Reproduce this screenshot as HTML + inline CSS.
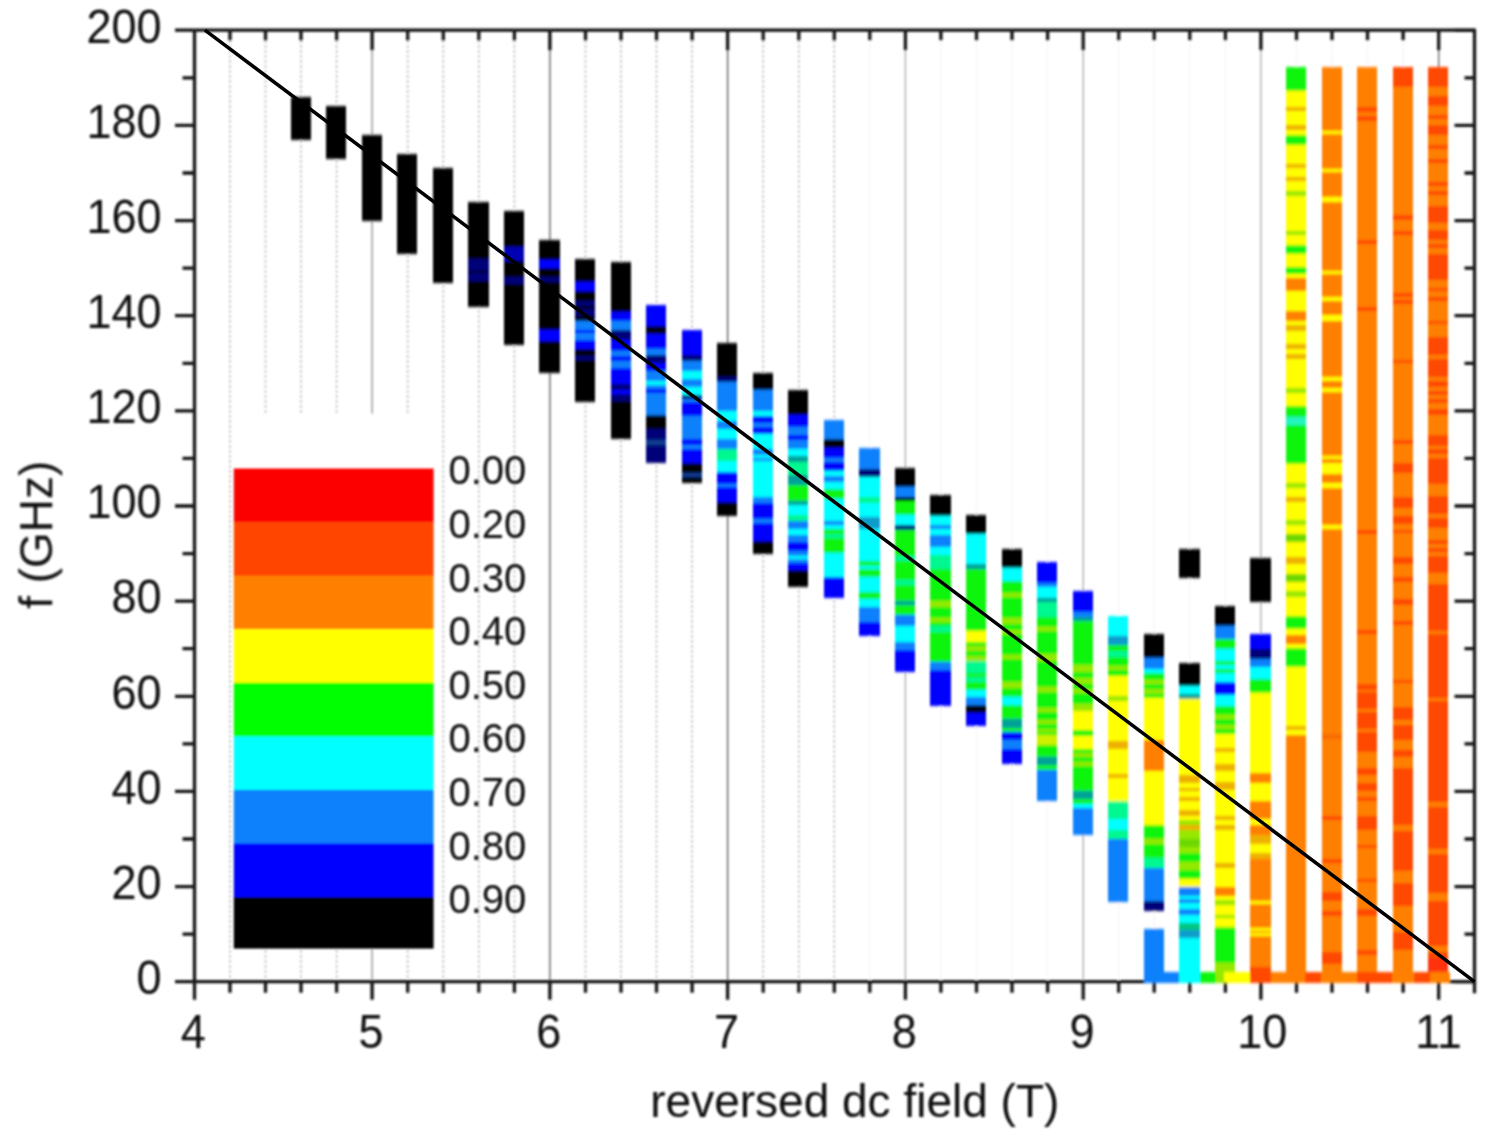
<!DOCTYPE html>
<html lang="en"><head><meta charset="utf-8"><title>f (GHz) vs reversed dc field (T)</title>
<style>html,body{margin:0;padding:0;background:#fff}body{width:1492px;height:1140px;overflow:hidden}svg{display:block}text{font-family:"Liberation Sans",Arial,sans-serif;fill:#0a0a0a}</style></head><body>
<svg width="1492" height="1140" viewBox="0 0 1492 1140">
<defs><filter id="bl" x="-5%" y="-5%" width="110%" height="110%"><feGaussianBlur stdDeviation="0.85"/></filter><filter id="bs" x="-2%" y="-2%" width="104%" height="104%"><feGaussianBlur stdDeviation="0.55"/></filter><filter id="bb" x="-20%" y="-2%" width="140%" height="104%"><feGaussianBlur stdDeviation="0.7 1.3"/></filter></defs>
<rect width="1492" height="1140" fill="#fff"/>
<g filter="url(#bl)">
<g fill="none">
<line x1="230.0" y1="30.2" x2="230.0" y2="981.7" stroke="#b8b8b8" stroke-width="1.6" stroke-dasharray="2.5 2.5"/>
<line x1="265.5" y1="30.2" x2="265.5" y2="981.7" stroke="#b8b8b8" stroke-width="1.6" stroke-dasharray="2.5 2.5"/>
<line x1="301.0" y1="30.2" x2="301.0" y2="981.7" stroke="#b8b8b8" stroke-width="1.6" stroke-dasharray="2.5 2.5"/>
<line x1="336.6" y1="30.2" x2="336.6" y2="981.7" stroke="#b8b8b8" stroke-width="1.6" stroke-dasharray="2.5 2.5"/>
<line x1="372.1" y1="30.2" x2="372.1" y2="981.7" stroke="#8a8a8a" stroke-width="1.3"/>
<line x1="407.7" y1="30.2" x2="407.7" y2="981.7" stroke="#b8b8b8" stroke-width="1.6" stroke-dasharray="2.5 2.5"/>
<line x1="443.3" y1="30.2" x2="443.3" y2="981.7" stroke="#b8b8b8" stroke-width="1.6" stroke-dasharray="2.5 2.5"/>
<line x1="478.8" y1="30.2" x2="478.8" y2="981.7" stroke="#b8b8b8" stroke-width="1.6" stroke-dasharray="2.5 2.5"/>
<line x1="514.4" y1="30.2" x2="514.4" y2="981.7" stroke="#b8b8b8" stroke-width="1.6" stroke-dasharray="2.5 2.5"/>
<line x1="549.9" y1="30.2" x2="549.9" y2="981.7" stroke="#555555" stroke-width="1.3"/>
<line x1="585.5" y1="30.2" x2="585.5" y2="981.7" stroke="#b8b8b8" stroke-width="1.6" stroke-dasharray="2.5 2.5"/>
<line x1="621.0" y1="30.2" x2="621.0" y2="981.7" stroke="#b8b8b8" stroke-width="1.6" stroke-dasharray="2.5 2.5"/>
<line x1="656.5" y1="30.2" x2="656.5" y2="981.7" stroke="#b8b8b8" stroke-width="1.6" stroke-dasharray="2.5 2.5"/>
<line x1="692.1" y1="30.2" x2="692.1" y2="981.7" stroke="#b8b8b8" stroke-width="1.6" stroke-dasharray="2.5 2.5"/>
<line x1="727.6" y1="30.2" x2="727.6" y2="981.7" stroke="#555555" stroke-width="1.3"/>
<line x1="763.2" y1="30.2" x2="763.2" y2="981.7" stroke="#b8b8b8" stroke-width="1.6" stroke-dasharray="2.5 2.5"/>
<line x1="798.8" y1="30.2" x2="798.8" y2="981.7" stroke="#b8b8b8" stroke-width="1.6" stroke-dasharray="2.5 2.5"/>
<line x1="834.3" y1="30.2" x2="834.3" y2="981.7" stroke="#b8b8b8" stroke-width="1.6" stroke-dasharray="2.5 2.5"/>
<line x1="869.8" y1="30.2" x2="869.8" y2="981.7" stroke="#f5f5f5" stroke-width="1.2"/>
<line x1="905.4" y1="30.2" x2="905.4" y2="981.7" stroke="#a8a8a8" stroke-width="1.3"/>
<line x1="940.9" y1="30.2" x2="940.9" y2="981.7" stroke="#f5f5f5" stroke-width="1.2"/>
<line x1="976.5" y1="30.2" x2="976.5" y2="981.7" stroke="#f5f5f5" stroke-width="1.2"/>
<line x1="1012.0" y1="30.2" x2="1012.0" y2="981.7" stroke="#f5f5f5" stroke-width="1.2"/>
<line x1="1047.6" y1="30.2" x2="1047.6" y2="981.7" stroke="#f5f5f5" stroke-width="1.2"/>
<line x1="1083.2" y1="30.2" x2="1083.2" y2="981.7" stroke="#a8a8a8" stroke-width="1.3"/>
<line x1="1118.7" y1="30.2" x2="1118.7" y2="981.7" stroke="#f5f5f5" stroke-width="1.2"/>
<line x1="1154.2" y1="30.2" x2="1154.2" y2="981.7" stroke="#f5f5f5" stroke-width="1.2"/>
<line x1="1189.8" y1="30.2" x2="1189.8" y2="981.7" stroke="#f5f5f5" stroke-width="1.2"/>
<line x1="1225.4" y1="30.2" x2="1225.4" y2="981.7" stroke="#f5f5f5" stroke-width="1.2"/>
<line x1="1260.9" y1="30.2" x2="1260.9" y2="981.7" stroke="#a8a8a8" stroke-width="1.3"/>
<line x1="1296.5" y1="30.2" x2="1296.5" y2="981.7" stroke="#f5f5f5" stroke-width="1.2"/>
<line x1="1332.0" y1="30.2" x2="1332.0" y2="981.7" stroke="#f5f5f5" stroke-width="1.2"/>
<line x1="1367.5" y1="30.2" x2="1367.5" y2="981.7" stroke="#f5f5f5" stroke-width="1.2"/>
<line x1="1403.1" y1="30.2" x2="1403.1" y2="981.7" stroke="#f5f5f5" stroke-width="1.2"/>
<line x1="1438.7" y1="30.2" x2="1438.7" y2="981.7" stroke="#606060" stroke-width="1.3"/>
</g>
<rect x="234" y="414" width="202" height="535" fill="#fff"/>
<g stroke="#161616" stroke-width="3.3" fill="none" stroke-linecap="butt">
<path d="M175.0 30.2H1476.0M175.0 981.7H1144.5M1449 981.7H1476.0M194.5 30.2V999.7M1474.5 30.2V993.2"/>
<path d="M1454.5 981.7H1474.5M182.5 934.1H194.5M1464.5 934.1H1474.5M175.0 886.6H194.5M1454.5 886.6H1474.5M182.5 839.0H194.5M1464.5 839.0H1474.5M175.0 791.4H194.5M1454.5 791.4H1474.5M182.5 743.9H194.5M1464.5 743.9H1474.5M175.0 696.3H194.5M1454.5 696.3H1474.5M182.5 648.7H194.5M1464.5 648.7H1474.5M175.0 601.1H194.5M1454.5 601.1H1474.5M182.5 553.6H194.5M1464.5 553.6H1474.5M175.0 506.0H194.5M1454.5 506.0H1474.5M182.5 458.4H194.5M1464.5 458.4H1474.5M175.0 410.9H194.5M1454.5 410.9H1474.5M182.5 363.3H194.5M1464.5 363.3H1474.5M175.0 315.7H194.5M1454.5 315.7H1474.5M182.5 268.2H194.5M1464.5 268.2H1474.5M175.0 220.6H194.5M1454.5 220.6H1474.5M182.5 173.0H194.5M1464.5 173.0H1474.5M175.0 125.4H194.5M1454.5 125.4H1474.5M182.5 77.9H194.5M1464.5 77.9H1474.5M1454.5 30.3H1474.5M230.0 981.7V992.7M230.0 30.2V40.5M265.5 981.7V992.7M265.5 30.2V40.5M301.0 981.7V992.7M301.0 30.2V40.5M336.6 981.7V992.7M336.6 30.2V40.5M372.1 981.7V999.7M372.1 30.2V50.2M407.7 981.7V992.7M407.7 30.2V40.5M443.3 981.7V992.7M443.3 30.2V40.5M478.8 981.7V992.7M478.8 30.2V40.5M514.4 981.7V992.7M514.4 30.2V40.5M549.9 981.7V999.7M549.9 30.2V50.2M585.5 981.7V992.7M585.5 30.2V40.5M621.0 981.7V992.7M621.0 30.2V40.5M656.5 981.7V992.7M656.5 30.2V40.5M692.1 981.7V992.7M692.1 30.2V40.5M727.6 981.7V999.7M727.6 30.2V50.2M763.2 981.7V992.7M763.2 30.2V40.5M798.8 981.7V992.7M798.8 30.2V40.5M834.3 981.7V992.7M834.3 30.2V40.5M869.8 981.7V992.7M869.8 30.2V40.5M905.4 981.7V999.7M905.4 30.2V50.2M940.9 981.7V992.7M940.9 30.2V40.5M976.5 981.7V992.7M976.5 30.2V40.5M1012.0 981.7V992.7M1012.0 30.2V40.5M1047.6 981.7V992.7M1047.6 30.2V40.5M1083.2 981.7V999.7M1083.2 30.2V50.2M1118.7 981.7V992.7M1118.7 30.2V40.5M1154.2 981.7V992.7M1154.2 30.2V40.5M1189.8 981.7V992.7M1189.8 30.2V40.5M1225.4 981.7V992.7M1225.4 30.2V40.5M1260.9 981.7V999.7M1260.9 30.2V50.2M1296.5 981.7V992.7M1296.5 30.2V40.5M1332.0 981.7V992.7M1332.0 30.2V40.5M1367.5 981.7V992.7M1367.5 30.2V40.5M1403.1 981.7V992.7M1403.1 30.2V40.5M1438.7 981.7V999.7M1438.7 30.2V50.2"/>
</g>
<g filter="url(#bb)" shape-rendering="crispEdges">
<rect x="290.5" y="96.9" width="20.2" height="43.1" fill="#000000"/>
<rect x="326.1" y="106.4" width="20.2" height="52.6" fill="#000000"/>
<rect x="361.6" y="135.0" width="20.2" height="85.9" fill="#000000"/>
<rect x="397.2" y="154.0" width="20.2" height="100.2" fill="#000000"/>
<rect x="432.8" y="168.3" width="20.2" height="114.5" fill="#000000"/>
<rect x="468.3" y="201.6" width="20.2" height="57.4" fill="#000000"/>
<rect x="468.3" y="258.6" width="20.2" height="12.2" fill="#000078"/>
<rect x="468.3" y="270.5" width="20.2" height="2.7" fill="#000000"/>
<rect x="468.3" y="272.9" width="20.2" height="8.4" fill="#000078"/>
<rect x="468.3" y="281.0" width="20.2" height="25.5" fill="#000000"/>
<rect x="503.9" y="211.1" width="20.2" height="36.0" fill="#000000"/>
<rect x="503.9" y="246.7" width="20.2" height="14.1" fill="#0000b4"/>
<rect x="503.9" y="260.5" width="20.2" height="16.5" fill="#000000"/>
<rect x="503.9" y="276.7" width="20.2" height="7.4" fill="#000078"/>
<rect x="503.9" y="283.8" width="20.2" height="60.7" fill="#000000"/>
<rect x="539.4" y="239.6" width="20.2" height="20.3" fill="#000000"/>
<rect x="539.4" y="259.6" width="20.2" height="8.9" fill="#0000ff"/>
<rect x="539.4" y="268.2" width="20.2" height="8.9" fill="#000000"/>
<rect x="539.4" y="276.7" width="20.2" height="6.0" fill="#000078"/>
<rect x="539.4" y="282.4" width="20.2" height="47.9" fill="#000000"/>
<rect x="539.4" y="330.0" width="20.2" height="10.8" fill="#0000ff"/>
<rect x="539.4" y="340.5" width="20.2" height="32.6" fill="#000000"/>
<rect x="575.0" y="258.6" width="20.2" height="24.1" fill="#000000"/>
<rect x="575.0" y="282.4" width="20.2" height="8.9" fill="#0000ff"/>
<rect x="575.0" y="291.0" width="20.2" height="10.8" fill="#000000"/>
<rect x="575.0" y="301.4" width="20.2" height="5.1" fill="#000078"/>
<rect x="575.0" y="306.2" width="20.2" height="3.2" fill="#000000"/>
<rect x="575.0" y="309.1" width="20.2" height="7.0" fill="#000078"/>
<rect x="575.0" y="315.7" width="20.2" height="6.0" fill="#000000"/>
<rect x="575.0" y="321.4" width="20.2" height="8.9" fill="#0c80fc"/>
<rect x="575.0" y="330.0" width="20.2" height="3.6" fill="#0000ff"/>
<rect x="575.0" y="333.3" width="20.2" height="6.5" fill="#0c80fc"/>
<rect x="575.0" y="339.5" width="20.2" height="9.8" fill="#0000ff"/>
<rect x="575.0" y="349.0" width="20.2" height="7.0" fill="#000000"/>
<rect x="575.0" y="355.7" width="20.2" height="4.1" fill="#000078"/>
<rect x="575.0" y="359.5" width="20.2" height="42.2" fill="#000000"/>
<rect x="610.5" y="261.5" width="20.2" height="50.7" fill="#000000"/>
<rect x="610.5" y="311.9" width="20.2" height="9.8" fill="#0000ff"/>
<rect x="610.5" y="321.4" width="20.2" height="8.9" fill="#0c80fc"/>
<rect x="610.5" y="330.0" width="20.2" height="9.8" fill="#000078"/>
<rect x="610.5" y="339.5" width="20.2" height="12.2" fill="#0000ff"/>
<rect x="610.5" y="351.4" width="20.2" height="5.1" fill="#0c80fc"/>
<rect x="610.5" y="356.2" width="20.2" height="5.1" fill="#0000ff"/>
<rect x="610.5" y="360.9" width="20.2" height="7.0" fill="#0c80fc"/>
<rect x="610.5" y="367.6" width="20.2" height="16.5" fill="#0000ff"/>
<rect x="610.5" y="383.7" width="20.2" height="6.5" fill="#000078"/>
<rect x="610.5" y="389.9" width="20.2" height="4.6" fill="#0000ff"/>
<rect x="610.5" y="394.2" width="20.2" height="7.4" fill="#000078"/>
<rect x="610.5" y="401.3" width="20.2" height="37.4" fill="#000000"/>
<rect x="646.0" y="305.3" width="20.2" height="21.2" fill="#0000ff"/>
<rect x="646.0" y="326.2" width="20.2" height="8.4" fill="#000000"/>
<rect x="646.0" y="334.3" width="20.2" height="14.6" fill="#0000ff"/>
<rect x="646.0" y="348.5" width="20.2" height="6.5" fill="#0c80fc"/>
<rect x="646.0" y="354.7" width="20.2" height="8.9" fill="#000078"/>
<rect x="646.0" y="363.3" width="20.2" height="7.9" fill="#0000ff"/>
<rect x="646.0" y="370.9" width="20.2" height="10.3" fill="#0c80fc"/>
<rect x="646.0" y="380.9" width="20.2" height="4.1" fill="#00ffff"/>
<rect x="646.0" y="384.7" width="20.2" height="4.6" fill="#0c80fc"/>
<rect x="646.0" y="389.0" width="20.2" height="4.1" fill="#0000ff"/>
<rect x="646.0" y="392.8" width="20.2" height="22.7" fill="#0c80fc"/>
<rect x="646.0" y="415.1" width="20.2" height="14.6" fill="#000000"/>
<rect x="646.0" y="429.4" width="20.2" height="11.2" fill="#000078"/>
<rect x="646.0" y="440.4" width="20.2" height="5.1" fill="#083c90"/>
<rect x="646.0" y="445.1" width="20.2" height="17.9" fill="#000078"/>
<rect x="681.6" y="329.5" width="20.2" height="25.5" fill="#0000ff"/>
<rect x="681.6" y="354.7" width="20.2" height="7.0" fill="#000078"/>
<rect x="681.6" y="361.4" width="20.2" height="9.8" fill="#0c80fc"/>
<rect x="681.6" y="370.9" width="20.2" height="7.9" fill="#00ffff"/>
<rect x="681.6" y="378.5" width="20.2" height="8.9" fill="#0c80fc"/>
<rect x="681.6" y="387.1" width="20.2" height="7.9" fill="#00ffff"/>
<rect x="681.6" y="394.7" width="20.2" height="4.1" fill="#000078"/>
<rect x="681.6" y="398.5" width="20.2" height="4.1" fill="#0c80fc"/>
<rect x="681.6" y="402.3" width="20.2" height="14.1" fill="#0000ff"/>
<rect x="681.6" y="416.1" width="20.2" height="22.7" fill="#0c80fc"/>
<rect x="681.6" y="438.5" width="20.2" height="6.5" fill="#0000ff"/>
<rect x="681.6" y="444.6" width="20.2" height="5.1" fill="#0c80fc"/>
<rect x="681.6" y="449.4" width="20.2" height="13.6" fill="#0000ff"/>
<rect x="681.6" y="462.7" width="20.2" height="10.3" fill="#000000"/>
<rect x="681.6" y="472.7" width="20.2" height="4.1" fill="#083c90"/>
<rect x="681.6" y="476.5" width="20.2" height="6.5" fill="#000000"/>
<rect x="717.1" y="342.8" width="20.2" height="34.1" fill="#000000"/>
<rect x="717.1" y="376.6" width="20.2" height="5.5" fill="#000078"/>
<rect x="717.1" y="381.8" width="20.2" height="29.3" fill="#0c80fc"/>
<rect x="717.1" y="410.9" width="20.2" height="10.8" fill="#00ffff"/>
<rect x="717.1" y="421.3" width="20.2" height="8.4" fill="#0c80fc"/>
<rect x="717.1" y="429.4" width="20.2" height="10.3" fill="#00ffff"/>
<rect x="717.1" y="439.4" width="20.2" height="10.3" fill="#0c80fc"/>
<rect x="717.1" y="449.4" width="20.2" height="12.2" fill="#00f890"/>
<rect x="717.1" y="461.3" width="20.2" height="10.8" fill="#00ffff"/>
<rect x="717.1" y="471.7" width="20.2" height="12.2" fill="#0000ff"/>
<rect x="717.1" y="483.6" width="20.2" height="3.2" fill="#0c80fc"/>
<rect x="717.1" y="486.5" width="20.2" height="15.5" fill="#0000ff"/>
<rect x="717.1" y="501.7" width="20.2" height="14.6" fill="#000000"/>
<rect x="752.7" y="372.8" width="20.2" height="17.4" fill="#000000"/>
<rect x="752.7" y="389.9" width="20.2" height="21.2" fill="#0c80fc"/>
<rect x="752.7" y="410.9" width="20.2" height="5.5" fill="#00ffff"/>
<rect x="752.7" y="416.1" width="20.2" height="7.4" fill="#0000ff"/>
<rect x="752.7" y="423.2" width="20.2" height="4.1" fill="#0c80fc"/>
<rect x="752.7" y="427.0" width="20.2" height="7.4" fill="#0000ff"/>
<rect x="752.7" y="434.2" width="20.2" height="15.5" fill="#00ffff"/>
<rect x="752.7" y="449.4" width="20.2" height="5.5" fill="#0c80fc"/>
<rect x="752.7" y="454.6" width="20.2" height="3.2" fill="#00ffff"/>
<rect x="752.7" y="457.5" width="20.2" height="4.1" fill="#0c80fc"/>
<rect x="752.7" y="461.3" width="20.2" height="35.5" fill="#00ffff"/>
<rect x="752.7" y="496.5" width="20.2" height="6.5" fill="#0c80fc"/>
<rect x="752.7" y="502.7" width="20.2" height="16.9" fill="#0000ff"/>
<rect x="752.7" y="519.3" width="20.2" height="4.1" fill="#0c80fc"/>
<rect x="752.7" y="523.1" width="20.2" height="18.4" fill="#0000ff"/>
<rect x="752.7" y="541.2" width="20.2" height="12.7" fill="#000000"/>
<rect x="788.2" y="390.4" width="20.2" height="24.6" fill="#000000"/>
<rect x="788.2" y="414.7" width="20.2" height="12.2" fill="#0000ff"/>
<rect x="788.2" y="426.6" width="20.2" height="8.9" fill="#0c80fc"/>
<rect x="788.2" y="435.1" width="20.2" height="5.1" fill="#0000ff"/>
<rect x="788.2" y="439.9" width="20.2" height="9.3" fill="#0c80fc"/>
<rect x="788.2" y="448.9" width="20.2" height="7.4" fill="#00ffff"/>
<rect x="788.2" y="456.1" width="20.2" height="6.5" fill="#00a098"/>
<rect x="788.2" y="462.2" width="20.2" height="13.1" fill="#00f890"/>
<rect x="788.2" y="475.1" width="20.2" height="9.8" fill="#00a098"/>
<rect x="788.2" y="484.6" width="20.2" height="16.5" fill="#08f408"/>
<rect x="788.2" y="500.8" width="20.2" height="4.1" fill="#00a098"/>
<rect x="788.2" y="504.6" width="20.2" height="10.8" fill="#00ffff"/>
<rect x="788.2" y="515.0" width="20.2" height="6.0" fill="#00f890"/>
<rect x="788.2" y="520.7" width="20.2" height="8.4" fill="#0c80fc"/>
<rect x="788.2" y="528.8" width="20.2" height="6.0" fill="#00ffff"/>
<rect x="788.2" y="534.5" width="20.2" height="7.4" fill="#0c80fc"/>
<rect x="788.2" y="541.7" width="20.2" height="9.3" fill="#0000ff"/>
<rect x="788.2" y="550.7" width="20.2" height="5.5" fill="#0c80fc"/>
<rect x="788.2" y="555.9" width="20.2" height="3.2" fill="#00ffff"/>
<rect x="788.2" y="558.8" width="20.2" height="4.6" fill="#0c80fc"/>
<rect x="788.2" y="563.1" width="20.2" height="7.0" fill="#0000ff"/>
<rect x="788.2" y="569.7" width="20.2" height="17.4" fill="#000000"/>
<rect x="823.8" y="419.9" width="20.2" height="19.8" fill="#0c80fc"/>
<rect x="823.8" y="439.4" width="20.2" height="9.3" fill="#000000"/>
<rect x="823.8" y="448.4" width="20.2" height="10.3" fill="#0000ff"/>
<rect x="823.8" y="458.4" width="20.2" height="4.1" fill="#0c80fc"/>
<rect x="823.8" y="462.2" width="20.2" height="9.3" fill="#0000ff"/>
<rect x="823.8" y="471.3" width="20.2" height="4.6" fill="#00ffff"/>
<rect x="823.8" y="475.6" width="20.2" height="6.5" fill="#0c80fc"/>
<rect x="823.8" y="481.7" width="20.2" height="7.9" fill="#00ffff"/>
<rect x="823.8" y="489.4" width="20.2" height="9.8" fill="#08f408"/>
<rect x="823.8" y="498.9" width="20.2" height="22.2" fill="#00ffff"/>
<rect x="823.8" y="520.7" width="20.2" height="4.6" fill="#0c80fc"/>
<rect x="823.8" y="525.0" width="20.2" height="4.1" fill="#00ffff"/>
<rect x="823.8" y="528.8" width="20.2" height="5.1" fill="#08f408"/>
<rect x="823.8" y="533.6" width="20.2" height="5.1" fill="#00f890"/>
<rect x="823.8" y="538.3" width="20.2" height="14.6" fill="#08f408"/>
<rect x="823.8" y="552.6" width="20.2" height="24.6" fill="#00ffff"/>
<rect x="823.8" y="576.9" width="20.2" height="20.8" fill="#0000ff"/>
<rect x="859.3" y="447.5" width="20.2" height="22.2" fill="#0c80fc"/>
<rect x="859.3" y="469.4" width="20.2" height="7.4" fill="#000078"/>
<rect x="859.3" y="476.5" width="20.2" height="20.3" fill="#00ffff"/>
<rect x="859.3" y="496.5" width="20.2" height="6.5" fill="#00f890"/>
<rect x="859.3" y="502.7" width="20.2" height="14.1" fill="#00ffff"/>
<rect x="859.3" y="516.5" width="20.2" height="12.7" fill="#0a9ccc"/>
<rect x="859.3" y="528.8" width="20.2" height="32.6" fill="#00ffff"/>
<rect x="859.3" y="561.2" width="20.2" height="4.6" fill="#08f408"/>
<rect x="859.3" y="565.5" width="20.2" height="3.6" fill="#00ffff"/>
<rect x="859.3" y="568.8" width="20.2" height="8.9" fill="#08f408"/>
<rect x="859.3" y="577.4" width="20.2" height="14.6" fill="#00ffff"/>
<rect x="859.3" y="591.6" width="20.2" height="7.9" fill="#08f408"/>
<rect x="859.3" y="599.2" width="20.2" height="8.4" fill="#00ffff"/>
<rect x="859.3" y="607.3" width="20.2" height="14.6" fill="#0c80fc"/>
<rect x="859.3" y="621.6" width="20.2" height="14.6" fill="#0000ff"/>
<rect x="894.9" y="467.5" width="20.2" height="20.3" fill="#000000"/>
<rect x="894.9" y="487.4" width="20.2" height="9.3" fill="#0c80fc"/>
<rect x="894.9" y="496.5" width="20.2" height="5.1" fill="#000000"/>
<rect x="894.9" y="501.2" width="20.2" height="13.6" fill="#08f408"/>
<rect x="894.9" y="514.6" width="20.2" height="10.8" fill="#00ffff"/>
<rect x="894.9" y="525.0" width="20.2" height="5.1" fill="#000078"/>
<rect x="894.9" y="529.8" width="20.2" height="26.5" fill="#08f408"/>
<rect x="894.9" y="555.9" width="20.2" height="5.1" fill="#00f890"/>
<rect x="894.9" y="560.7" width="20.2" height="19.3" fill="#08f408"/>
<rect x="894.9" y="579.7" width="20.2" height="5.1" fill="#00f890"/>
<rect x="894.9" y="584.5" width="20.2" height="16.9" fill="#08f408"/>
<rect x="894.9" y="601.1" width="20.2" height="4.6" fill="#00a098"/>
<rect x="894.9" y="605.4" width="20.2" height="10.3" fill="#08f408"/>
<rect x="894.9" y="615.4" width="20.2" height="10.8" fill="#0c80fc"/>
<rect x="894.9" y="625.9" width="20.2" height="16.0" fill="#00ffff"/>
<rect x="894.9" y="641.6" width="20.2" height="8.4" fill="#0c80fc"/>
<rect x="894.9" y="649.7" width="20.2" height="22.2" fill="#0000ff"/>
<rect x="930.4" y="494.6" width="20.2" height="21.2" fill="#000000"/>
<rect x="930.4" y="515.5" width="20.2" height="9.8" fill="#00ffff"/>
<rect x="930.4" y="525.0" width="20.2" height="4.1" fill="#0c80fc"/>
<rect x="930.4" y="528.8" width="20.2" height="6.5" fill="#00ffff"/>
<rect x="930.4" y="535.0" width="20.2" height="12.2" fill="#0c80fc"/>
<rect x="930.4" y="546.9" width="20.2" height="8.4" fill="#00ffff"/>
<rect x="930.4" y="555.0" width="20.2" height="14.6" fill="#00f890"/>
<rect x="930.4" y="569.3" width="20.2" height="32.2" fill="#08f408"/>
<rect x="930.4" y="601.1" width="20.2" height="6.5" fill="#96e800"/>
<rect x="930.4" y="607.3" width="20.2" height="10.8" fill="#08f408"/>
<rect x="930.4" y="617.8" width="20.2" height="4.1" fill="#96e800"/>
<rect x="930.4" y="621.6" width="20.2" height="4.6" fill="#08f408"/>
<rect x="930.4" y="625.9" width="20.2" height="6.0" fill="#00f890"/>
<rect x="930.4" y="631.6" width="20.2" height="30.7" fill="#08f408"/>
<rect x="930.4" y="662.0" width="20.2" height="8.4" fill="#0c80fc"/>
<rect x="930.4" y="670.1" width="20.2" height="36.0" fill="#0000ff"/>
<rect x="966.0" y="514.6" width="20.2" height="19.3" fill="#000000"/>
<rect x="966.0" y="533.6" width="20.2" height="30.7" fill="#00ffff"/>
<rect x="966.0" y="564.0" width="20.2" height="5.5" fill="#00a098"/>
<rect x="966.0" y="569.3" width="20.2" height="61.7" fill="#08f408"/>
<rect x="966.0" y="630.6" width="20.2" height="11.2" fill="#ffff00"/>
<rect x="966.0" y="641.6" width="20.2" height="5.1" fill="#08f408"/>
<rect x="966.0" y="646.3" width="20.2" height="5.1" fill="#96e800"/>
<rect x="966.0" y="651.1" width="20.2" height="5.1" fill="#08f408"/>
<rect x="966.0" y="655.8" width="20.2" height="5.1" fill="#96e800"/>
<rect x="966.0" y="660.6" width="20.2" height="12.2" fill="#00f890"/>
<rect x="966.0" y="672.5" width="20.2" height="5.1" fill="#08f408"/>
<rect x="966.0" y="677.3" width="20.2" height="5.1" fill="#00f890"/>
<rect x="966.0" y="682.0" width="20.2" height="8.4" fill="#08f408"/>
<rect x="966.0" y="690.1" width="20.2" height="7.4" fill="#00ffff"/>
<rect x="966.0" y="697.2" width="20.2" height="8.4" fill="#0c80fc"/>
<rect x="966.0" y="705.3" width="20.2" height="7.4" fill="#000000"/>
<rect x="966.0" y="712.5" width="20.2" height="13.6" fill="#0000ff"/>
<rect x="1001.5" y="548.8" width="20.2" height="19.3" fill="#000000"/>
<rect x="1001.5" y="567.8" width="20.2" height="13.6" fill="#00ffff"/>
<rect x="1001.5" y="581.2" width="20.2" height="12.2" fill="#08f408"/>
<rect x="1001.5" y="593.1" width="20.2" height="4.6" fill="#96e800"/>
<rect x="1001.5" y="597.3" width="20.2" height="20.8" fill="#08f408"/>
<rect x="1001.5" y="617.8" width="20.2" height="6.0" fill="#96e800"/>
<rect x="1001.5" y="623.5" width="20.2" height="6.5" fill="#08f408"/>
<rect x="1001.5" y="629.7" width="20.2" height="4.1" fill="#96e800"/>
<rect x="1001.5" y="633.5" width="20.2" height="21.7" fill="#08f408"/>
<rect x="1001.5" y="654.9" width="20.2" height="4.6" fill="#96e800"/>
<rect x="1001.5" y="659.2" width="20.2" height="23.1" fill="#08f408"/>
<rect x="1001.5" y="682.0" width="20.2" height="6.5" fill="#96e800"/>
<rect x="1001.5" y="688.2" width="20.2" height="9.3" fill="#08f408"/>
<rect x="1001.5" y="697.2" width="20.2" height="8.4" fill="#00ffff"/>
<rect x="1001.5" y="705.3" width="20.2" height="13.6" fill="#08f408"/>
<rect x="1001.5" y="718.6" width="20.2" height="9.3" fill="#00a098"/>
<rect x="1001.5" y="727.7" width="20.2" height="5.1" fill="#08f408"/>
<rect x="1001.5" y="732.4" width="20.2" height="7.4" fill="#0000ff"/>
<rect x="1001.5" y="739.6" width="20.2" height="9.3" fill="#0c80fc"/>
<rect x="1001.5" y="748.6" width="20.2" height="15.5" fill="#0000ff"/>
<rect x="1037.1" y="562.1" width="20.2" height="20.8" fill="#0000ff"/>
<rect x="1037.1" y="582.6" width="20.2" height="4.6" fill="#0c80fc"/>
<rect x="1037.1" y="586.9" width="20.2" height="11.2" fill="#00ffff"/>
<rect x="1037.1" y="597.8" width="20.2" height="4.1" fill="#00a098"/>
<rect x="1037.1" y="601.6" width="20.2" height="15.5" fill="#00f890"/>
<rect x="1037.1" y="616.8" width="20.2" height="10.8" fill="#08f408"/>
<rect x="1037.1" y="627.3" width="20.2" height="4.1" fill="#96e800"/>
<rect x="1037.1" y="631.1" width="20.2" height="22.7" fill="#08f408"/>
<rect x="1037.1" y="653.5" width="20.2" height="7.9" fill="#96e800"/>
<rect x="1037.1" y="661.1" width="20.2" height="26.5" fill="#08f408"/>
<rect x="1037.1" y="687.2" width="20.2" height="4.6" fill="#96e800"/>
<rect x="1037.1" y="691.5" width="20.2" height="16.5" fill="#08f408"/>
<rect x="1037.1" y="707.7" width="20.2" height="4.1" fill="#96e800"/>
<rect x="1037.1" y="711.5" width="20.2" height="8.9" fill="#08f408"/>
<rect x="1037.1" y="720.1" width="20.2" height="4.1" fill="#96e800"/>
<rect x="1037.1" y="723.9" width="20.2" height="5.1" fill="#08f408"/>
<rect x="1037.1" y="728.6" width="20.2" height="4.1" fill="#96e800"/>
<rect x="1037.1" y="732.4" width="20.2" height="2.7" fill="#08f408"/>
<rect x="1037.1" y="734.8" width="20.2" height="10.3" fill="#d0f000"/>
<rect x="1037.1" y="744.8" width="20.2" height="12.2" fill="#08f408"/>
<rect x="1037.1" y="756.7" width="20.2" height="8.4" fill="#00a098"/>
<rect x="1037.1" y="764.8" width="20.2" height="5.5" fill="#08f408"/>
<rect x="1037.1" y="770.0" width="20.2" height="31.2" fill="#0c80fc"/>
<rect x="1072.7" y="590.7" width="20.2" height="21.2" fill="#0000ff"/>
<rect x="1072.7" y="611.6" width="20.2" height="5.5" fill="#0c80fc"/>
<rect x="1072.7" y="616.8" width="20.2" height="4.6" fill="#00a098"/>
<rect x="1072.7" y="621.1" width="20.2" height="44.5" fill="#08f408"/>
<rect x="1072.7" y="665.4" width="20.2" height="7.0" fill="#96e800"/>
<rect x="1072.7" y="672.0" width="20.2" height="6.5" fill="#08f408"/>
<rect x="1072.7" y="678.2" width="20.2" height="6.5" fill="#96e800"/>
<rect x="1072.7" y="684.4" width="20.2" height="5.1" fill="#08f408"/>
<rect x="1072.7" y="689.1" width="20.2" height="3.6" fill="#96e800"/>
<rect x="1072.7" y="692.5" width="20.2" height="12.2" fill="#08f408"/>
<rect x="1072.7" y="704.4" width="20.2" height="6.5" fill="#96e800"/>
<rect x="1072.7" y="710.6" width="20.2" height="19.3" fill="#ffff00"/>
<rect x="1072.7" y="729.6" width="20.2" height="6.5" fill="#08f408"/>
<rect x="1072.7" y="735.8" width="20.2" height="13.1" fill="#ffff00"/>
<rect x="1072.7" y="748.6" width="20.2" height="4.6" fill="#08f408"/>
<rect x="1072.7" y="752.9" width="20.2" height="4.1" fill="#96e800"/>
<rect x="1072.7" y="756.7" width="20.2" height="5.1" fill="#08f408"/>
<rect x="1072.7" y="761.5" width="20.2" height="5.1" fill="#96e800"/>
<rect x="1072.7" y="766.2" width="20.2" height="24.6" fill="#08f408"/>
<rect x="1072.7" y="790.5" width="20.2" height="8.4" fill="#00a098"/>
<rect x="1072.7" y="798.6" width="20.2" height="6.0" fill="#08f408"/>
<rect x="1072.7" y="804.3" width="20.2" height="3.6" fill="#00ffff"/>
<rect x="1072.7" y="807.6" width="20.2" height="26.9" fill="#0c80fc"/>
<rect x="1108.2" y="615.9" width="20.2" height="20.3" fill="#00ffff"/>
<rect x="1108.2" y="635.9" width="20.2" height="9.3" fill="#0a9ccc"/>
<rect x="1108.2" y="644.9" width="20.2" height="6.5" fill="#08f408"/>
<rect x="1108.2" y="651.1" width="20.2" height="6.5" fill="#00f890"/>
<rect x="1108.2" y="657.3" width="20.2" height="8.9" fill="#08f408"/>
<rect x="1108.2" y="665.8" width="20.2" height="4.6" fill="#96e800"/>
<rect x="1108.2" y="670.1" width="20.2" height="6.5" fill="#08f408"/>
<rect x="1108.2" y="676.3" width="20.2" height="20.3" fill="#ffff00"/>
<rect x="1108.2" y="696.3" width="20.2" height="4.6" fill="#96e800"/>
<rect x="1108.2" y="700.6" width="20.2" height="40.3" fill="#ffff00"/>
<rect x="1108.2" y="740.5" width="20.2" height="8.4" fill="#eeb000"/>
<rect x="1108.2" y="748.6" width="20.2" height="25.5" fill="#ffff00"/>
<rect x="1108.2" y="773.8" width="20.2" height="4.1" fill="#eeb000"/>
<rect x="1108.2" y="777.6" width="20.2" height="23.6" fill="#ffff00"/>
<rect x="1108.2" y="800.9" width="20.2" height="18.4" fill="#00f890"/>
<rect x="1108.2" y="819.0" width="20.2" height="10.8" fill="#00ffff"/>
<rect x="1108.2" y="829.5" width="20.2" height="9.3" fill="#00f890"/>
<rect x="1108.2" y="838.5" width="20.2" height="63.1" fill="#0c80fc"/>
<rect x="1143.8" y="634.0" width="20.2" height="24.6" fill="#000000"/>
<rect x="1143.8" y="658.2" width="20.2" height="11.2" fill="#0c80fc"/>
<rect x="1143.8" y="669.2" width="20.2" height="4.6" fill="#00ffff"/>
<rect x="1143.8" y="673.4" width="20.2" height="6.5" fill="#08f408"/>
<rect x="1143.8" y="679.6" width="20.2" height="5.1" fill="#96e800"/>
<rect x="1143.8" y="684.4" width="20.2" height="5.1" fill="#08f408"/>
<rect x="1143.8" y="689.1" width="20.2" height="5.1" fill="#96e800"/>
<rect x="1143.8" y="693.9" width="20.2" height="4.1" fill="#08f408"/>
<rect x="1143.8" y="697.7" width="20.2" height="42.6" fill="#ffff00"/>
<rect x="1143.8" y="740.0" width="20.2" height="31.7" fill="#ff8000"/>
<rect x="1143.8" y="771.4" width="20.2" height="53.6" fill="#ffff00"/>
<rect x="1143.8" y="824.7" width="20.2" height="14.6" fill="#08f408"/>
<rect x="1143.8" y="839.0" width="20.2" height="5.1" fill="#96e800"/>
<rect x="1143.8" y="843.7" width="20.2" height="14.6" fill="#08f408"/>
<rect x="1143.8" y="858.0" width="20.2" height="9.8" fill="#00f890"/>
<rect x="1143.8" y="867.5" width="20.2" height="34.1" fill="#0c80fc"/>
<rect x="1143.8" y="901.3" width="20.2" height="9.8" fill="#000078"/>
<rect x="1143.8" y="928.9" width="20.2" height="53.1" fill="#0c80fc"/>
<rect x="1179.3" y="548.8" width="20.2" height="28.8" fill="#000000"/>
<rect x="1179.3" y="663.0" width="20.2" height="23.6" fill="#000000"/>
<rect x="1179.3" y="686.3" width="20.2" height="7.9" fill="#00ffff"/>
<rect x="1179.3" y="693.9" width="20.2" height="5.1" fill="#00a098"/>
<rect x="1179.3" y="698.7" width="20.2" height="76.4" fill="#ffff00"/>
<rect x="1179.3" y="774.8" width="20.2" height="8.9" fill="#eeb000"/>
<rect x="1179.3" y="783.3" width="20.2" height="4.6" fill="#ffff00"/>
<rect x="1179.3" y="787.6" width="20.2" height="3.2" fill="#eeb000"/>
<rect x="1179.3" y="790.5" width="20.2" height="6.5" fill="#ffff00"/>
<rect x="1179.3" y="796.7" width="20.2" height="4.1" fill="#eeb000"/>
<rect x="1179.3" y="800.5" width="20.2" height="10.3" fill="#ffff00"/>
<rect x="1179.3" y="810.4" width="20.2" height="5.5" fill="#eeb000"/>
<rect x="1179.3" y="815.7" width="20.2" height="4.6" fill="#ffff00"/>
<rect x="1179.3" y="820.0" width="20.2" height="5.1" fill="#96e800"/>
<rect x="1179.3" y="824.7" width="20.2" height="5.1" fill="#eeb000"/>
<rect x="1179.3" y="829.5" width="20.2" height="9.8" fill="#96e800"/>
<rect x="1179.3" y="839.0" width="20.2" height="8.4" fill="#6cd800"/>
<rect x="1179.3" y="847.1" width="20.2" height="6.5" fill="#96e800"/>
<rect x="1179.3" y="853.3" width="20.2" height="8.9" fill="#08f408"/>
<rect x="1179.3" y="861.8" width="20.2" height="8.9" fill="#96e800"/>
<rect x="1179.3" y="870.4" width="20.2" height="8.4" fill="#08f408"/>
<rect x="1179.3" y="878.5" width="20.2" height="8.9" fill="#ffff00"/>
<rect x="1179.3" y="887.0" width="20.2" height="8.9" fill="#0c80fc"/>
<rect x="1179.3" y="895.6" width="20.2" height="3.6" fill="#00ffff"/>
<rect x="1179.3" y="898.9" width="20.2" height="4.1" fill="#0c80fc"/>
<rect x="1179.3" y="902.7" width="20.2" height="6.5" fill="#00ffff"/>
<rect x="1179.3" y="908.9" width="20.2" height="6.0" fill="#0c80fc"/>
<rect x="1179.3" y="914.6" width="20.2" height="8.4" fill="#00ffff"/>
<rect x="1179.3" y="922.7" width="20.2" height="7.9" fill="#00c880"/>
<rect x="1179.3" y="930.3" width="20.2" height="8.4" fill="#0a9ccc"/>
<rect x="1179.3" y="938.4" width="20.2" height="43.6" fill="#00ffff"/>
<rect x="1214.9" y="606.4" width="20.2" height="19.8" fill="#000000"/>
<rect x="1214.9" y="625.9" width="20.2" height="13.6" fill="#0c80fc"/>
<rect x="1214.9" y="639.2" width="20.2" height="10.3" fill="#08f408"/>
<rect x="1214.9" y="649.2" width="20.2" height="12.2" fill="#00ffff"/>
<rect x="1214.9" y="661.1" width="20.2" height="4.6" fill="#08f408"/>
<rect x="1214.9" y="665.4" width="20.2" height="4.1" fill="#00ffff"/>
<rect x="1214.9" y="669.2" width="20.2" height="4.6" fill="#08f408"/>
<rect x="1214.9" y="673.4" width="20.2" height="8.9" fill="#00ffff"/>
<rect x="1214.9" y="682.0" width="20.2" height="13.6" fill="#0000ff"/>
<rect x="1214.9" y="695.3" width="20.2" height="10.8" fill="#00ffff"/>
<rect x="1214.9" y="705.8" width="20.2" height="9.8" fill="#08f408"/>
<rect x="1214.9" y="715.3" width="20.2" height="4.1" fill="#96e800"/>
<rect x="1214.9" y="719.1" width="20.2" height="6.0" fill="#08f408"/>
<rect x="1214.9" y="724.8" width="20.2" height="4.1" fill="#96e800"/>
<rect x="1214.9" y="728.6" width="20.2" height="5.5" fill="#08f408"/>
<rect x="1214.9" y="733.9" width="20.2" height="14.6" fill="#ffff00"/>
<rect x="1214.9" y="748.1" width="20.2" height="4.1" fill="#eeb000"/>
<rect x="1214.9" y="751.9" width="20.2" height="12.7" fill="#ffff00"/>
<rect x="1214.9" y="764.3" width="20.2" height="6.5" fill="#eeb000"/>
<rect x="1214.9" y="770.5" width="20.2" height="12.2" fill="#ffff00"/>
<rect x="1214.9" y="782.4" width="20.2" height="7.4" fill="#eeb000"/>
<rect x="1214.9" y="789.5" width="20.2" height="26.5" fill="#ffff00"/>
<rect x="1214.9" y="815.7" width="20.2" height="4.1" fill="#eeb000"/>
<rect x="1214.9" y="819.5" width="20.2" height="5.5" fill="#ffff00"/>
<rect x="1214.9" y="824.7" width="20.2" height="5.1" fill="#eeb000"/>
<rect x="1214.9" y="829.5" width="20.2" height="34.1" fill="#ffff00"/>
<rect x="1214.9" y="863.3" width="20.2" height="4.6" fill="#eeb000"/>
<rect x="1214.9" y="867.5" width="20.2" height="19.8" fill="#ffff00"/>
<rect x="1214.9" y="887.0" width="20.2" height="8.9" fill="#ff8000"/>
<rect x="1214.9" y="895.6" width="20.2" height="5.1" fill="#ffff00"/>
<rect x="1214.9" y="900.4" width="20.2" height="4.6" fill="#96e800"/>
<rect x="1214.9" y="904.6" width="20.2" height="10.3" fill="#ffff00"/>
<rect x="1214.9" y="914.6" width="20.2" height="4.1" fill="#96e800"/>
<rect x="1214.9" y="918.4" width="20.2" height="8.9" fill="#ffff00"/>
<rect x="1214.9" y="927.0" width="20.2" height="36.0" fill="#08f408"/>
<rect x="1214.9" y="962.7" width="20.2" height="9.8" fill="#96e800"/>
<rect x="1214.9" y="972.2" width="20.2" height="9.8" fill="#ffff00"/>
<rect x="1250.4" y="557.9" width="20.2" height="44.1" fill="#000000"/>
<rect x="1250.4" y="633.5" width="20.2" height="16.0" fill="#0000ff"/>
<rect x="1250.4" y="649.2" width="20.2" height="10.3" fill="#000078"/>
<rect x="1250.4" y="659.2" width="20.2" height="8.4" fill="#0c80fc"/>
<rect x="1250.4" y="667.3" width="20.2" height="12.2" fill="#00ffff"/>
<rect x="1250.4" y="679.2" width="20.2" height="13.6" fill="#08f408"/>
<rect x="1250.4" y="692.5" width="20.2" height="81.2" fill="#ffff00"/>
<rect x="1250.4" y="773.3" width="20.2" height="10.3" fill="#ff8000"/>
<rect x="1250.4" y="783.3" width="20.2" height="18.4" fill="#ffff00"/>
<rect x="1250.4" y="801.4" width="20.2" height="17.9" fill="#ff8000"/>
<rect x="1250.4" y="819.0" width="20.2" height="6.0" fill="#ffff00"/>
<rect x="1250.4" y="824.7" width="20.2" height="10.8" fill="#ff8000"/>
<rect x="1250.4" y="835.2" width="20.2" height="8.9" fill="#eeb000"/>
<rect x="1250.4" y="843.7" width="20.2" height="9.8" fill="#ffff00"/>
<rect x="1250.4" y="853.3" width="20.2" height="6.0" fill="#eeb000"/>
<rect x="1250.4" y="859.0" width="20.2" height="42.6" fill="#ff8000"/>
<rect x="1250.4" y="901.3" width="20.2" height="3.2" fill="#ffff00"/>
<rect x="1250.4" y="904.2" width="20.2" height="24.6" fill="#ff8000"/>
<rect x="1250.4" y="928.4" width="20.2" height="3.2" fill="#ffff00"/>
<rect x="1250.4" y="931.3" width="20.2" height="2.2" fill="#ff8000"/>
<rect x="1250.4" y="933.2" width="20.2" height="2.7" fill="#ffff00"/>
<rect x="1250.4" y="935.6" width="20.2" height="32.2" fill="#ff8000"/>
<rect x="1250.4" y="967.4" width="20.2" height="14.6" fill="#ff4800"/>
<rect x="1286.0" y="66.5" width="20.2" height="25.0" fill="#08f408"/>
<rect x="1286.0" y="91.2" width="20.2" height="16.5" fill="#ffff00"/>
<rect x="1286.0" y="107.4" width="20.2" height="4.1" fill="#eeb000"/>
<rect x="1286.0" y="111.2" width="20.2" height="14.6" fill="#ffff00"/>
<rect x="1286.0" y="125.4" width="20.2" height="4.6" fill="#eeb000"/>
<rect x="1286.0" y="129.7" width="20.2" height="5.5" fill="#ffff00"/>
<rect x="1286.0" y="135.0" width="20.2" height="10.3" fill="#08f408"/>
<rect x="1286.0" y="144.9" width="20.2" height="19.3" fill="#ffff00"/>
<rect x="1286.0" y="164.0" width="20.2" height="4.6" fill="#eeb000"/>
<rect x="1286.0" y="168.3" width="20.2" height="9.3" fill="#ffff00"/>
<rect x="1286.0" y="177.3" width="20.2" height="4.1" fill="#eeb000"/>
<rect x="1286.0" y="181.1" width="20.2" height="10.3" fill="#ffff00"/>
<rect x="1286.0" y="191.1" width="20.2" height="5.5" fill="#96e800"/>
<rect x="1286.0" y="196.3" width="20.2" height="34.6" fill="#ffff00"/>
<rect x="1286.0" y="230.6" width="20.2" height="4.6" fill="#96e800"/>
<rect x="1286.0" y="234.9" width="20.2" height="10.3" fill="#ffff00"/>
<rect x="1286.0" y="244.8" width="20.2" height="9.3" fill="#08f408"/>
<rect x="1286.0" y="253.9" width="20.2" height="13.1" fill="#ffff00"/>
<rect x="1286.0" y="266.7" width="20.2" height="7.4" fill="#08f408"/>
<rect x="1286.0" y="273.9" width="20.2" height="4.1" fill="#ffff00"/>
<rect x="1286.0" y="277.7" width="20.2" height="13.6" fill="#ff8000"/>
<rect x="1286.0" y="291.0" width="20.2" height="19.8" fill="#ffff00"/>
<rect x="1286.0" y="310.5" width="20.2" height="10.3" fill="#ff8000"/>
<rect x="1286.0" y="320.5" width="20.2" height="5.1" fill="#ffff00"/>
<rect x="1286.0" y="325.2" width="20.2" height="5.5" fill="#eeb000"/>
<rect x="1286.0" y="330.5" width="20.2" height="13.6" fill="#ffff00"/>
<rect x="1286.0" y="343.8" width="20.2" height="5.1" fill="#eeb000"/>
<rect x="1286.0" y="348.5" width="20.2" height="5.5" fill="#ffff00"/>
<rect x="1286.0" y="353.8" width="20.2" height="5.1" fill="#eeb000"/>
<rect x="1286.0" y="358.5" width="20.2" height="29.8" fill="#ffff00"/>
<rect x="1286.0" y="388.0" width="20.2" height="5.1" fill="#96e800"/>
<rect x="1286.0" y="392.8" width="20.2" height="13.6" fill="#ffff00"/>
<rect x="1286.0" y="406.1" width="20.2" height="11.2" fill="#08f408"/>
<rect x="1286.0" y="417.0" width="20.2" height="8.4" fill="#20f4c0"/>
<rect x="1286.0" y="425.1" width="20.2" height="38.8" fill="#08f408"/>
<rect x="1286.0" y="463.7" width="20.2" height="19.3" fill="#ffff00"/>
<rect x="1286.0" y="482.7" width="20.2" height="5.5" fill="#96e800"/>
<rect x="1286.0" y="487.9" width="20.2" height="9.3" fill="#ffff00"/>
<rect x="1286.0" y="497.0" width="20.2" height="5.1" fill="#eeb000"/>
<rect x="1286.0" y="501.7" width="20.2" height="18.9" fill="#ffff00"/>
<rect x="1286.0" y="520.3" width="20.2" height="5.1" fill="#96e800"/>
<rect x="1286.0" y="525.0" width="20.2" height="9.3" fill="#ffff00"/>
<rect x="1286.0" y="534.1" width="20.2" height="8.4" fill="#6cd800"/>
<rect x="1286.0" y="542.2" width="20.2" height="15.5" fill="#ffff00"/>
<rect x="1286.0" y="557.4" width="20.2" height="6.5" fill="#eeb000"/>
<rect x="1286.0" y="563.6" width="20.2" height="10.3" fill="#ffff00"/>
<rect x="1286.0" y="573.5" width="20.2" height="8.4" fill="#6cd800"/>
<rect x="1286.0" y="581.6" width="20.2" height="9.3" fill="#ffff00"/>
<rect x="1286.0" y="590.7" width="20.2" height="6.5" fill="#96e800"/>
<rect x="1286.0" y="596.9" width="20.2" height="19.3" fill="#ffff00"/>
<rect x="1286.0" y="615.9" width="20.2" height="13.6" fill="#08f408"/>
<rect x="1286.0" y="629.2" width="20.2" height="6.0" fill="#ffff00"/>
<rect x="1286.0" y="634.9" width="20.2" height="9.3" fill="#ff8000"/>
<rect x="1286.0" y="644.0" width="20.2" height="4.6" fill="#ffff00"/>
<rect x="1286.0" y="648.2" width="20.2" height="19.3" fill="#08f408"/>
<rect x="1286.0" y="667.3" width="20.2" height="58.8" fill="#ffff00"/>
<rect x="1286.0" y="725.8" width="20.2" height="4.6" fill="#eeb000"/>
<rect x="1286.0" y="730.1" width="20.2" height="5.1" fill="#ffff00"/>
<rect x="1286.0" y="734.8" width="20.2" height="247.2" fill="#ff8000"/>
<rect x="1321.5" y="66.5" width="20.2" height="64.5" fill="#ff8000"/>
<rect x="1321.5" y="130.7" width="20.2" height="3.6" fill="#ffff00"/>
<rect x="1321.5" y="134.0" width="20.2" height="35.5" fill="#ff8000"/>
<rect x="1321.5" y="169.2" width="20.2" height="3.2" fill="#ffff00"/>
<rect x="1321.5" y="172.1" width="20.2" height="25.5" fill="#ff8000"/>
<rect x="1321.5" y="197.3" width="20.2" height="4.6" fill="#ffff00"/>
<rect x="1321.5" y="201.6" width="20.2" height="69.8" fill="#ff8000"/>
<rect x="1321.5" y="271.0" width="20.2" height="3.2" fill="#ffff00"/>
<rect x="1321.5" y="273.9" width="20.2" height="23.6" fill="#ff8000"/>
<rect x="1321.5" y="297.2" width="20.2" height="4.1" fill="#ffff00"/>
<rect x="1321.5" y="301.0" width="20.2" height="14.6" fill="#ff8000"/>
<rect x="1321.5" y="315.2" width="20.2" height="5.5" fill="#ffff00"/>
<rect x="1321.5" y="320.5" width="20.2" height="56.4" fill="#ff8000"/>
<rect x="1321.5" y="376.6" width="20.2" height="4.6" fill="#ffff00"/>
<rect x="1321.5" y="380.9" width="20.2" height="7.4" fill="#ff8000"/>
<rect x="1321.5" y="388.0" width="20.2" height="4.1" fill="#ffff00"/>
<rect x="1321.5" y="391.8" width="20.2" height="64.0" fill="#ff8000"/>
<rect x="1321.5" y="455.6" width="20.2" height="4.1" fill="#ffff00"/>
<rect x="1321.5" y="459.4" width="20.2" height="3.6" fill="#ff8000"/>
<rect x="1321.5" y="462.7" width="20.2" height="11.2" fill="#ffff00"/>
<rect x="1321.5" y="473.7" width="20.2" height="9.3" fill="#ff8000"/>
<rect x="1321.5" y="482.7" width="20.2" height="5.5" fill="#ffff00"/>
<rect x="1321.5" y="487.9" width="20.2" height="37.4" fill="#ff8000"/>
<rect x="1321.5" y="525.0" width="20.2" height="4.6" fill="#ffff00"/>
<rect x="1321.5" y="529.3" width="20.2" height="205.3" fill="#ff8000"/>
<rect x="1321.5" y="734.3" width="20.2" height="5.1" fill="#f86c00"/>
<rect x="1321.5" y="739.1" width="20.2" height="76.9" fill="#ff8000"/>
<rect x="1321.5" y="815.7" width="20.2" height="4.1" fill="#ff4800"/>
<rect x="1321.5" y="819.5" width="20.2" height="39.8" fill="#ff8000"/>
<rect x="1321.5" y="859.0" width="20.2" height="4.6" fill="#ff4800"/>
<rect x="1321.5" y="863.3" width="20.2" height="29.3" fill="#ff8000"/>
<rect x="1321.5" y="892.3" width="20.2" height="9.3" fill="#ff4800"/>
<rect x="1321.5" y="901.3" width="20.2" height="10.3" fill="#ff8000"/>
<rect x="1321.5" y="911.3" width="20.2" height="4.6" fill="#ff4800"/>
<rect x="1321.5" y="915.6" width="20.2" height="36.5" fill="#ff8000"/>
<rect x="1321.5" y="951.7" width="20.2" height="12.7" fill="#ff4800"/>
<rect x="1321.5" y="964.1" width="20.2" height="17.9" fill="#ff8000"/>
<rect x="1357.0" y="66.5" width="20.2" height="41.2" fill="#ff8000"/>
<rect x="1357.0" y="107.4" width="20.2" height="4.6" fill="#ff4800"/>
<rect x="1357.0" y="111.6" width="20.2" height="5.1" fill="#ff8000"/>
<rect x="1357.0" y="116.4" width="20.2" height="4.6" fill="#ff4800"/>
<rect x="1357.0" y="120.7" width="20.2" height="119.2" fill="#ff8000"/>
<rect x="1357.0" y="239.6" width="20.2" height="4.6" fill="#ff4800"/>
<rect x="1357.0" y="243.9" width="20.2" height="63.6" fill="#ff8000"/>
<rect x="1357.0" y="307.2" width="20.2" height="4.6" fill="#ff4800"/>
<rect x="1357.0" y="311.4" width="20.2" height="219.1" fill="#ff8000"/>
<rect x="1357.0" y="530.3" width="20.2" height="4.1" fill="#ff4800"/>
<rect x="1357.0" y="534.1" width="20.2" height="96.4" fill="#ff8000"/>
<rect x="1357.0" y="630.2" width="20.2" height="4.1" fill="#ff4800"/>
<rect x="1357.0" y="634.0" width="20.2" height="50.2" fill="#ff8000"/>
<rect x="1357.0" y="683.9" width="20.2" height="6.0" fill="#ff4800"/>
<rect x="1357.0" y="689.6" width="20.2" height="2.2" fill="#ff8000"/>
<rect x="1357.0" y="691.5" width="20.2" height="17.4" fill="#ff4800"/>
<rect x="1357.0" y="708.6" width="20.2" height="3.6" fill="#ff8000"/>
<rect x="1357.0" y="712.0" width="20.2" height="17.4" fill="#ff4800"/>
<rect x="1357.0" y="729.1" width="20.2" height="3.2" fill="#ff8000"/>
<rect x="1357.0" y="732.0" width="20.2" height="20.3" fill="#ff4800"/>
<rect x="1357.0" y="751.9" width="20.2" height="16.5" fill="#ff8000"/>
<rect x="1357.0" y="768.1" width="20.2" height="7.4" fill="#ff4800"/>
<rect x="1357.0" y="775.2" width="20.2" height="8.4" fill="#ff8000"/>
<rect x="1357.0" y="783.3" width="20.2" height="7.4" fill="#ff4800"/>
<rect x="1357.0" y="790.5" width="20.2" height="6.5" fill="#ff8000"/>
<rect x="1357.0" y="796.7" width="20.2" height="4.1" fill="#ff4800"/>
<rect x="1357.0" y="800.5" width="20.2" height="15.5" fill="#ff8000"/>
<rect x="1357.0" y="815.7" width="20.2" height="14.6" fill="#ff4800"/>
<rect x="1357.0" y="830.0" width="20.2" height="15.0" fill="#ff8000"/>
<rect x="1357.0" y="844.7" width="20.2" height="3.6" fill="#ff4800"/>
<rect x="1357.0" y="848.0" width="20.2" height="31.7" fill="#ff8000"/>
<rect x="1357.0" y="879.4" width="20.2" height="3.2" fill="#ff4800"/>
<rect x="1357.0" y="882.3" width="20.2" height="27.4" fill="#ff8000"/>
<rect x="1357.0" y="909.4" width="20.2" height="6.5" fill="#ff4800"/>
<rect x="1357.0" y="915.6" width="20.2" height="34.6" fill="#ff8000"/>
<rect x="1357.0" y="949.8" width="20.2" height="5.5" fill="#ff4800"/>
<rect x="1357.0" y="955.1" width="20.2" height="26.9" fill="#ff8000"/>
<rect x="1392.6" y="66.5" width="20.2" height="21.2" fill="#ff4800"/>
<rect x="1392.6" y="87.4" width="20.2" height="128.3" fill="#ff8000"/>
<rect x="1392.6" y="215.3" width="20.2" height="4.6" fill="#ff4800"/>
<rect x="1392.6" y="219.6" width="20.2" height="11.2" fill="#ff8000"/>
<rect x="1392.6" y="230.6" width="20.2" height="4.6" fill="#ff4800"/>
<rect x="1392.6" y="234.9" width="20.2" height="58.3" fill="#ff8000"/>
<rect x="1392.6" y="292.9" width="20.2" height="4.6" fill="#ff4800"/>
<rect x="1392.6" y="297.2" width="20.2" height="3.2" fill="#ff8000"/>
<rect x="1392.6" y="300.0" width="20.2" height="4.6" fill="#ff4800"/>
<rect x="1392.6" y="304.3" width="20.2" height="55.5" fill="#ff8000"/>
<rect x="1392.6" y="359.5" width="20.2" height="3.6" fill="#ff4800"/>
<rect x="1392.6" y="362.8" width="20.2" height="77.8" fill="#ff8000"/>
<rect x="1392.6" y="440.4" width="20.2" height="4.1" fill="#ff4800"/>
<rect x="1392.6" y="444.2" width="20.2" height="18.9" fill="#ff8000"/>
<rect x="1392.6" y="462.7" width="20.2" height="10.3" fill="#ff4800"/>
<rect x="1392.6" y="472.7" width="20.2" height="24.6" fill="#ff8000"/>
<rect x="1392.6" y="497.0" width="20.2" height="11.7" fill="#ff4800"/>
<rect x="1392.6" y="508.4" width="20.2" height="7.9" fill="#ff8000"/>
<rect x="1392.6" y="516.0" width="20.2" height="8.4" fill="#ff4800"/>
<rect x="1392.6" y="524.1" width="20.2" height="6.5" fill="#ff8000"/>
<rect x="1392.6" y="530.3" width="20.2" height="3.2" fill="#ff4800"/>
<rect x="1392.6" y="533.1" width="20.2" height="24.6" fill="#ff8000"/>
<rect x="1392.6" y="557.4" width="20.2" height="6.5" fill="#ff4800"/>
<rect x="1392.6" y="563.6" width="20.2" height="14.1" fill="#ff8000"/>
<rect x="1392.6" y="577.4" width="20.2" height="4.6" fill="#ff4800"/>
<rect x="1392.6" y="581.6" width="20.2" height="17.4" fill="#ff8000"/>
<rect x="1392.6" y="598.8" width="20.2" height="6.5" fill="#ff4800"/>
<rect x="1392.6" y="604.9" width="20.2" height="16.5" fill="#ff8000"/>
<rect x="1392.6" y="621.1" width="20.2" height="4.1" fill="#ff4800"/>
<rect x="1392.6" y="624.9" width="20.2" height="55.0" fill="#ff8000"/>
<rect x="1392.6" y="679.6" width="20.2" height="4.1" fill="#ff4800"/>
<rect x="1392.6" y="683.4" width="20.2" height="23.6" fill="#ff8000"/>
<rect x="1392.6" y="706.7" width="20.2" height="13.1" fill="#ff4800"/>
<rect x="1392.6" y="719.6" width="20.2" height="5.5" fill="#ff8000"/>
<rect x="1392.6" y="724.8" width="20.2" height="15.5" fill="#ff4800"/>
<rect x="1392.6" y="740.0" width="20.2" height="10.3" fill="#ff8000"/>
<rect x="1392.6" y="750.0" width="20.2" height="7.4" fill="#ff4800"/>
<rect x="1392.6" y="757.2" width="20.2" height="11.2" fill="#ff8000"/>
<rect x="1392.6" y="768.1" width="20.2" height="56.9" fill="#ff4800"/>
<rect x="1392.6" y="824.7" width="20.2" height="6.5" fill="#ff8000"/>
<rect x="1392.6" y="830.9" width="20.2" height="40.7" fill="#ff4800"/>
<rect x="1392.6" y="871.3" width="20.2" height="12.2" fill="#ff8000"/>
<rect x="1392.6" y="883.2" width="20.2" height="22.7" fill="#ff4800"/>
<rect x="1392.6" y="905.6" width="20.2" height="26.5" fill="#ff8000"/>
<rect x="1392.6" y="931.8" width="20.2" height="18.4" fill="#ff4800"/>
<rect x="1392.6" y="949.8" width="20.2" height="32.2" fill="#ff8000"/>
<rect x="1428.2" y="66.5" width="20.2" height="21.2" fill="#ff4800"/>
<rect x="1428.2" y="87.4" width="20.2" height="9.3" fill="#ff8000"/>
<rect x="1428.2" y="96.4" width="20.2" height="9.3" fill="#ff4800"/>
<rect x="1428.2" y="105.5" width="20.2" height="9.3" fill="#ff8000"/>
<rect x="1428.2" y="114.5" width="20.2" height="4.6" fill="#ff4800"/>
<rect x="1428.2" y="118.8" width="20.2" height="7.0" fill="#ff8000"/>
<rect x="1428.2" y="125.4" width="20.2" height="9.8" fill="#ff4800"/>
<rect x="1428.2" y="135.0" width="20.2" height="10.3" fill="#ff8000"/>
<rect x="1428.2" y="144.9" width="20.2" height="4.6" fill="#ff4800"/>
<rect x="1428.2" y="149.2" width="20.2" height="9.8" fill="#ff8000"/>
<rect x="1428.2" y="158.7" width="20.2" height="4.6" fill="#ff4800"/>
<rect x="1428.2" y="163.0" width="20.2" height="19.3" fill="#ff8000"/>
<rect x="1428.2" y="182.0" width="20.2" height="4.6" fill="#ff4800"/>
<rect x="1428.2" y="186.3" width="20.2" height="5.1" fill="#ff8000"/>
<rect x="1428.2" y="191.1" width="20.2" height="4.6" fill="#ff4800"/>
<rect x="1428.2" y="195.4" width="20.2" height="11.2" fill="#ff8000"/>
<rect x="1428.2" y="206.3" width="20.2" height="17.4" fill="#ff4800"/>
<rect x="1428.2" y="223.4" width="20.2" height="6.5" fill="#ff8000"/>
<rect x="1428.2" y="229.6" width="20.2" height="10.3" fill="#ff4800"/>
<rect x="1428.2" y="239.6" width="20.2" height="4.6" fill="#ff8000"/>
<rect x="1428.2" y="243.9" width="20.2" height="4.1" fill="#ff4800"/>
<rect x="1428.2" y="247.7" width="20.2" height="6.5" fill="#ff8000"/>
<rect x="1428.2" y="253.9" width="20.2" height="26.5" fill="#ff4800"/>
<rect x="1428.2" y="280.0" width="20.2" height="8.4" fill="#ff8000"/>
<rect x="1428.2" y="288.1" width="20.2" height="3.2" fill="#ff4800"/>
<rect x="1428.2" y="291.0" width="20.2" height="6.5" fill="#ff8000"/>
<rect x="1428.2" y="297.2" width="20.2" height="4.6" fill="#ff4800"/>
<rect x="1428.2" y="301.4" width="20.2" height="19.3" fill="#ff8000"/>
<rect x="1428.2" y="320.5" width="20.2" height="4.1" fill="#ff4800"/>
<rect x="1428.2" y="324.3" width="20.2" height="12.7" fill="#ff8000"/>
<rect x="1428.2" y="336.7" width="20.2" height="18.4" fill="#ff4800"/>
<rect x="1428.2" y="354.7" width="20.2" height="4.1" fill="#ff8000"/>
<rect x="1428.2" y="358.5" width="20.2" height="18.4" fill="#ff4800"/>
<rect x="1428.2" y="376.6" width="20.2" height="4.6" fill="#ff8000"/>
<rect x="1428.2" y="380.9" width="20.2" height="6.5" fill="#ff4800"/>
<rect x="1428.2" y="387.1" width="20.2" height="4.1" fill="#ff8000"/>
<rect x="1428.2" y="390.9" width="20.2" height="4.6" fill="#ff4800"/>
<rect x="1428.2" y="395.2" width="20.2" height="4.1" fill="#ff8000"/>
<rect x="1428.2" y="399.0" width="20.2" height="4.6" fill="#ff4800"/>
<rect x="1428.2" y="403.2" width="20.2" height="6.0" fill="#ff8000"/>
<rect x="1428.2" y="409.0" width="20.2" height="6.5" fill="#ff4800"/>
<rect x="1428.2" y="415.1" width="20.2" height="20.3" fill="#ff8000"/>
<rect x="1428.2" y="435.1" width="20.2" height="10.8" fill="#ff4800"/>
<rect x="1428.2" y="445.6" width="20.2" height="4.1" fill="#ff8000"/>
<rect x="1428.2" y="449.4" width="20.2" height="4.6" fill="#ff4800"/>
<rect x="1428.2" y="453.7" width="20.2" height="5.1" fill="#ff8000"/>
<rect x="1428.2" y="458.4" width="20.2" height="25.5" fill="#ff4800"/>
<rect x="1428.2" y="483.6" width="20.2" height="12.7" fill="#ff8000"/>
<rect x="1428.2" y="496.0" width="20.2" height="18.4" fill="#ff4800"/>
<rect x="1428.2" y="514.1" width="20.2" height="4.1" fill="#ff8000"/>
<rect x="1428.2" y="517.9" width="20.2" height="10.8" fill="#ff4800"/>
<rect x="1428.2" y="528.4" width="20.2" height="12.2" fill="#ff8000"/>
<rect x="1428.2" y="540.3" width="20.2" height="4.1" fill="#ff4800"/>
<rect x="1428.2" y="544.1" width="20.2" height="4.6" fill="#ff8000"/>
<rect x="1428.2" y="548.3" width="20.2" height="4.1" fill="#ff4800"/>
<rect x="1428.2" y="552.1" width="20.2" height="4.6" fill="#ff8000"/>
<rect x="1428.2" y="556.4" width="20.2" height="16.5" fill="#ff4800"/>
<rect x="1428.2" y="572.6" width="20.2" height="11.2" fill="#ff8000"/>
<rect x="1428.2" y="583.5" width="20.2" height="47.9" fill="#ff4800"/>
<rect x="1428.2" y="631.1" width="20.2" height="3.2" fill="#ff8000"/>
<rect x="1428.2" y="634.0" width="20.2" height="64.0" fill="#ff4800"/>
<rect x="1428.2" y="697.7" width="20.2" height="3.2" fill="#ff8000"/>
<rect x="1428.2" y="700.6" width="20.2" height="102.1" fill="#ff4800"/>
<rect x="1428.2" y="802.4" width="20.2" height="4.6" fill="#ff8000"/>
<rect x="1428.2" y="806.6" width="20.2" height="42.6" fill="#ff4800"/>
<rect x="1428.2" y="849.0" width="20.2" height="5.5" fill="#ff8000"/>
<rect x="1428.2" y="854.2" width="20.2" height="39.3" fill="#ff4800"/>
<rect x="1428.2" y="893.2" width="20.2" height="8.4" fill="#ff8000"/>
<rect x="1428.2" y="901.3" width="20.2" height="45.0" fill="#ff4800"/>
<rect x="1428.2" y="946.0" width="20.2" height="6.0" fill="#ff8000"/>
<rect x="1428.2" y="951.7" width="20.2" height="6.5" fill="#ff4800"/>
<rect x="1428.2" y="957.9" width="20.2" height="24.1" fill="#ff3010"/>
<rect x="1143.7" y="972.2" width="35.9" height="10.8" fill="#0c80fc"/>
<rect x="1179.3" y="972.2" width="21.3" height="10.8" fill="#00ffff"/>
<rect x="1200.3" y="972.2" width="16.0" height="10.8" fill="#08f408"/>
<rect x="1216" y="972.2" width="8.3" height="10.8" fill="#96e800"/>
<rect x="1224" y="972.2" width="26.3" height="10.8" fill="#ffff00"/>
<rect x="1250" y="972.2" width="21.3" height="10.8" fill="#ff4800"/>
<rect x="1271" y="972.2" width="34.3" height="10.8" fill="#ff8000"/>
<rect x="1305" y="972.2" width="16.3" height="10.8" fill="#ff4800"/>
<rect x="1321" y="972.2" width="36.3" height="10.8" fill="#ff8000"/>
<rect x="1357" y="972.2" width="35.3" height="10.8" fill="#ff4800"/>
<rect x="1392" y="972.2" width="22.3" height="10.8" fill="#ff8000"/>
<rect x="1414" y="972.2" width="16.3" height="10.8" fill="#ff4800"/>
<rect x="1430" y="972.2" width="19.9" height="10.8" fill="#ff8000"/>
</g>
</g>
<line x1="204.9" y1="30.2" x2="1474.5" y2="981.7" stroke="#050505" stroke-width="3.5" filter="url(#bs)"/>
<g filter="url(#bl)">
<rect x="233.8" y="468.5" width="199.8" height="54.0" fill="#fc0000"/>
<rect x="233.8" y="522.1" width="199.8" height="54.0" fill="#ff4500"/>
<rect x="233.8" y="575.6" width="199.8" height="54.0" fill="#ff8000"/>
<rect x="233.8" y="629.2" width="199.8" height="54.0" fill="#ffff00"/>
<rect x="233.8" y="682.8" width="199.8" height="54.0" fill="#00ff00"/>
<rect x="233.8" y="736.4" width="199.8" height="54.0" fill="#00ffff"/>
<rect x="233.8" y="789.9" width="199.8" height="54.0" fill="#0c80fc"/>
<rect x="233.8" y="843.5" width="199.8" height="54.0" fill="#0000ff"/>
<rect x="233.8" y="897.1" width="199.8" height="51.5" fill="#000000"/>
<g font-size="40" text-anchor="start">
<text x="448.5" y="484.3">0.00</text>
<text x="448.5" y="537.9">0.20</text>
<text x="448.5" y="591.5">0.30</text>
<text x="448.5" y="645.1">0.40</text>
<text x="448.5" y="698.7">0.50</text>
<text x="448.5" y="752.3">0.60</text>
<text x="448.5" y="805.9">0.70</text>
<text x="448.5" y="859.5">0.80</text>
<text x="448.5" y="913.1">0.90</text>
</g>
<g font-size="45" text-anchor="end">
<text transform="translate(161.5 994.0) scale(1 1.06)">0</text>
<text transform="translate(161.5 898.9) scale(1 1.06)">20</text>
<text transform="translate(161.5 803.7) scale(1 1.06)">40</text>
<text transform="translate(161.5 708.6) scale(1 1.06)">60</text>
<text transform="translate(161.5 613.4) scale(1 1.06)">80</text>
<text transform="translate(161.5 518.3) scale(1 1.06)">100</text>
<text transform="translate(161.5 423.2) scale(1 1.06)">120</text>
<text transform="translate(161.5 328.0) scale(1 1.06)">140</text>
<text transform="translate(161.5 232.9) scale(1 1.06)">160</text>
<text transform="translate(161.5 137.7) scale(1 1.06)">180</text>
<text transform="translate(161.5 42.6) scale(1 1.06)">200</text>
</g>
<g font-size="45" text-anchor="middle">
<text transform="translate(193.2 1047.5) scale(1 1.06)">4</text>
<text transform="translate(370.9 1047.5) scale(1 1.06)">5</text>
<text transform="translate(548.7 1047.5) scale(1 1.06)">6</text>
<text transform="translate(726.4 1047.5) scale(1 1.06)">7</text>
<text transform="translate(904.2 1047.5) scale(1 1.06)">8</text>
<text transform="translate(1082.0 1047.5) scale(1 1.06)">9</text>
<text transform="translate(1262.3 1047.5) scale(1 1.06)">10</text>
<text transform="translate(1438.5 1047.5) scale(1 1.06)">11</text>
</g>
<text x="854.8" y="1117" font-size="46" text-anchor="middle">reversed dc field (T)</text>
<text transform="translate(52.2 534.8) rotate(-90)" font-size="46" text-anchor="middle">f (GHz)</text>
</g>
</svg></body></html>
